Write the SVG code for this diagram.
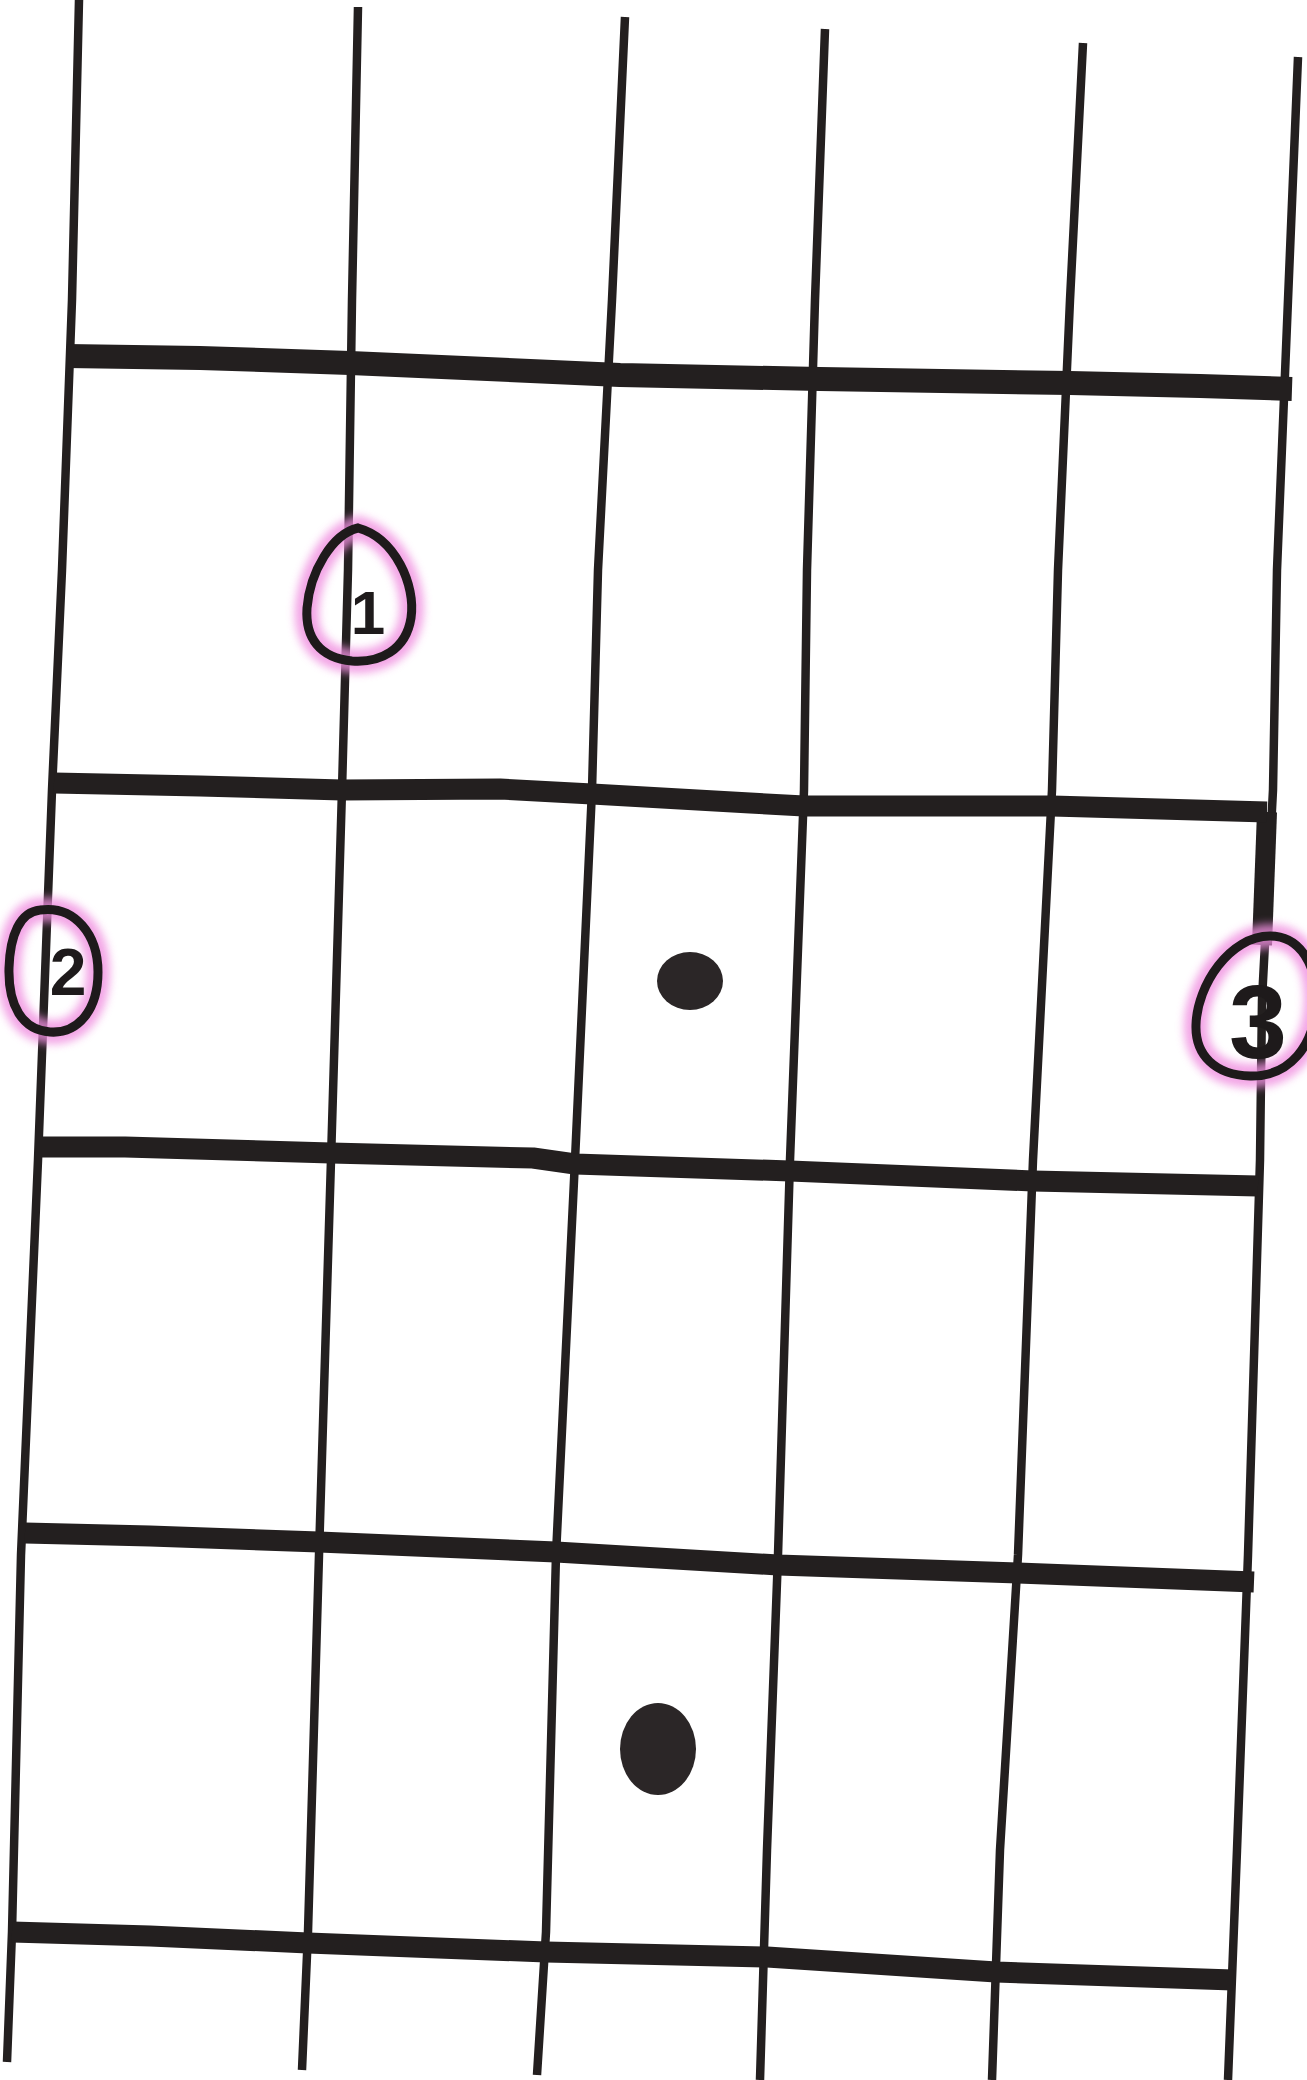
<svg xmlns="http://www.w3.org/2000/svg" width="1307" height="2080" viewBox="0 0 1307 2080">
<style>
.str{fill:none;stroke:#231f1f;stroke-width:8.5;stroke-linejoin:round}
.fret{fill:none;stroke:#231f1f;stroke-width:21;stroke-linejoin:round}
.halo{fill:none;stroke:#f08fe0;stroke-width:24;opacity:0.8}
.ring{fill:none;stroke:#1e1a1b;stroke-width:9}
.num{font-family:"Liberation Sans",Arial,sans-serif;font-weight:bold;fill:#1e1a1b;text-anchor:middle}
.dot{fill:#2b2627}
</style>
<defs>
<filter id="blur" x="-30%" y="-30%" width="160%" height="160%"><feGaussianBlur stdDeviation="4"/></filter>
</defs>
<rect width="1307" height="2080" fill="#ffffff"/>
<g id="strings">
<polyline class="str" points="79,0 72,300 62,570 52,790 38,1160 21,1555 12,1932 7,2062"/>
<polyline class="str" points="358,7 352,300 348,570 342,790 331,1160 319,1555 308,1932 302,2070"/>
<polyline class="str" points="625,17 612,300 598,570 592,790 575,1160 556,1555 546,1932 537,2075"/>
<polyline class="str" points="825,29 815,300 807,570 804,790 790,1160 778,1555 767,1850 760,2080"/>
<polyline class="str" points="1083,43 1070,300 1058,570 1052,790 1033,1160 1018,1555 1000,1850 992,2080"/>
<polyline class="str" points="1298,57 1288,300 1277,570 1273,790 1262,1000 1260,1160 1248,1555 1237,1850 1228,2080"/>
<line x1="1267" y1="812" x2="1262" y2="945" stroke="#231f1f" stroke-width="20"/>
</g>
<g id="frets">
<polyline class="fret" style="stroke-width:24" points="67,356 200,358 350,363 620,375 820,379 1070,383 1200,386 1292,389"/>
<polyline class="fret" points="54,783 200,786 342,790 500,789 592,794 750,803 804,806 1052,806 1267,812"/>
<polyline class="fret" points="42,1147 125,1147 331,1153 533,1158 575,1164 790,1171 1033,1181 1258,1186"/>
<polyline class="fret" points="25,1533 150,1536 319,1542 556,1552 778,1565 1018,1573 1254,1582"/>
<polyline class="fret" points="12,1932 150,1936 308,1943 546,1952 767,1957 996,1972 1233,1980"/>
</g>
<g id="finger1">
<path class="halo" filter="url(#blur)" d="M358,528 C395,538 416,585 411,618 C406,650 380,663 352,661 C320,658 305,638 307,608 C310,572 332,534 358,528 Z"/>
<path class="ring" d="M358,528 C395,538 416,585 411,618 C406,650 380,663 352,661 C320,658 305,638 307,608 C310,572 332,534 358,528 Z"/>
<text class="num" x="368" y="634" font-size="62">1</text>
</g>
<g id="finger2">
<path class="halo" filter="url(#blur)" d="M40,910 C75,905 98,935 98,972 C98,1010 78,1034 50,1032 C22,1030 8,1005 9,968 C10,935 20,912 40,910 Z"/>
<path class="ring" d="M40,910 C75,905 98,935 98,972 C98,1010 78,1034 50,1032 C22,1030 8,1005 9,968 C10,935 20,912 40,910 Z"/>
<text class="num" x="68" y="995" font-size="66">2</text>
</g>
<g id="finger3">
<path class="halo" filter="url(#blur)" d="M1270,936 C1300,936 1318,965 1316,1005 C1314,1045 1290,1077 1250,1076 C1215,1075 1195,1055 1196,1025 C1197,985 1230,936 1270,936 Z"/>
<path class="ring" d="M1270,936 C1300,936 1318,965 1316,1005 C1314,1045 1290,1077 1250,1076 C1215,1075 1195,1055 1196,1025 C1197,985 1230,936 1270,936 Z"/>
<text class="num" x="1258" y="1058" font-size="104">3</text>
</g>
<g id="dot1"><ellipse class="dot" cx="690" cy="981" rx="33" ry="29"/></g>
<g id="dot2"><ellipse class="dot" cx="658" cy="1749" rx="38" ry="46"/></g>
</svg>
